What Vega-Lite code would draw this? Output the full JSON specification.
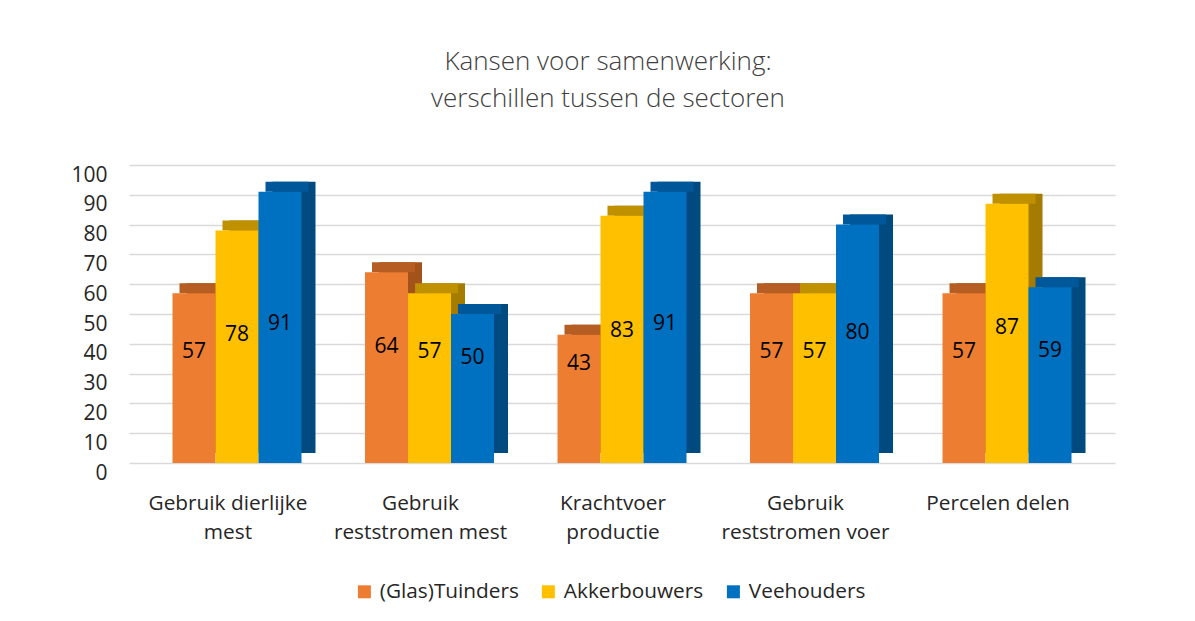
{
  "$schema": "https://vega.github.io/schema/vega-lite/v6.json",
  "width": 986,
  "height": 298,
  "padding": {"left": 70, "top": 49, "right": 10, "bottom": 10},
  "background": "white",
  "title": {
    "text": ["Kansen voor samenwerking:", "verschillen tussen de sectoren"],
    "fontSize": 26,
    "lineHeight": 37,
    "font": "Open Sans",
    "fontWeight": 300,
    "color": "#404040",
    "anchor": "middle",
    "offset": 52,
    "dx": -14
  },
  "data": {
    "values": [
      {"category": "Gebruik dierlijke mest", "sector": "(Glas)Tuinders", "value": 57},
      {"category": "Gebruik dierlijke mest", "sector": "Akkerbouwers", "value": 78},
      {"category": "Gebruik dierlijke mest", "sector": "Veehouders", "value": 91},
      {"category": "Gebruik reststromen mest", "sector": "(Glas)Tuinders", "value": 64},
      {"category": "Gebruik reststromen mest", "sector": "Akkerbouwers", "value": 57},
      {"category": "Gebruik reststromen mest", "sector": "Veehouders", "value": 50},
      {"category": "Krachtvoer productie", "sector": "(Glas)Tuinders", "value": 43},
      {"category": "Krachtvoer productie", "sector": "Akkerbouwers", "value": 83},
      {"category": "Krachtvoer productie", "sector": "Veehouders", "value": 91},
      {"category": "Gebruik reststromen voer", "sector": "(Glas)Tuinders", "value": 57},
      {"category": "Gebruik reststromen voer", "sector": "Akkerbouwers", "value": 57},
      {"category": "Gebruik reststromen voer", "sector": "Veehouders", "value": 80},
      {"category": "Percelen delen", "sector": "(Glas)Tuinders", "value": 57},
      {"category": "Percelen delen", "sector": "Akkerbouwers", "value": 87},
      {"category": "Percelen delen", "sector": "Veehouders", "value": 59}
    ]
  },
  "encoding": {
    "x": {
      "field": "category",
      "type": "nominal",
      "sort": null,
      "scale": {"paddingInner": 0.33, "paddingOuter": 0.226},
      "axis": {
        "title": null,
        "labelAngle": 0,
        "labelFontSize": 20.8,
        "labelColor": "#262626",
        "labelLineHeight": 29,
        "labelPadding": 30,
        "labelOffset": -9,
        "ticks": false,
        "domain": false,
        "labelExpr": "datum.value == 'Gebruik dierlijke mest' ? ['Gebruik dierlijke', 'mest'] : datum.value == 'Gebruik reststromen mest' ? ['Gebruik', 'reststromen mest'] : datum.value == 'Krachtvoer productie' ? ['Krachtvoer', 'productie'] : datum.value == 'Gebruik reststromen voer' ? ['Gebruik', 'reststromen voer'] : datum.value"
      }
    }
  },
  "layer": [
    {
      "mark": {"type": "bar", "yOffset": -10, "y2Offset": -10},
      "encoding": {
        "xOffset": {"field": "sector", "type": "nominal", "sort": null, "scale": {"range": [14, 143]}},
        "y": {"field": "value", "type": "quantitative", "scale": {"domain": [0, 100], "nice": false}, "axis": null},
        "y2": {"datum": 0},
        "color": {
          "field": "sector", "type": "nominal", "sort": null, "legend": null,
          "scale": {"domain": ["(Glas)Tuinders", "Akkerbouwers", "Veehouders"], "range": ["#A3521B", "#A67C00", "#004A80"]}
        }
      }
    },
    {
      "mark": {"type": "bar", "yOffset": -10, "y2Offset": 0},
      "encoding": {
        "xOffset": {"field": "sector", "type": "nominal", "sort": null, "scale": {"range": [7, 136]}},
        "y": {"field": "value", "type": "quantitative", "scale": {"domain": [0, 100], "nice": false}, "axis": null},
        "y2": {"field": "value"},
        "color": {
          "field": "sector", "type": "nominal", "sort": null, "legend": null,
          "scale": {"domain": ["(Glas)Tuinders", "Akkerbouwers", "Veehouders"], "range": ["#B55D22", "#BF9000", "#00579A"]}
        }
      }
    },
    {
      "mark": {"type": "bar"},
      "encoding": {
        "xOffset": {"field": "sector", "type": "nominal", "sort": null, "scale": {"range": [0, 129]}},
        "y": {
          "field": "value", "type": "quantitative",
          "scale": {"domain": [0, 100], "nice": false},
          "axis": {
            "title": null,
            "values": [0, 10, 20, 30, 40, 50, 60, 70, 80, 90, 100],
            "labelFontSize": 21,
            "labelColor": "#262626",
            "labelPadding": 22,
            "labelOffset": 10,
            "ticks": false,
            "tickSize": 0,
            "domain": false,
            "grid": true,
            "gridColor": "#d9d9d9",
            "gridWidth": 1.5
          }
        },
        "color": {
          "field": "sector", "type": "nominal", "sort": null,
          "scale": {"domain": ["(Glas)Tuinders", "Akkerbouwers", "Veehouders"], "range": ["#ED7D31", "#FFC000", "#0070C0"]},
          "legend": {
            "title": null,
            "orient": "none",
            "legendX": 225,
            "legendY": 416,
            "direction": "horizontal",
            "symbolType": "square",
            "symbolSize": 169,
            "symbolStrokeWidth": 0,
            "labelFontSize": 20.8,
            "labelColor": "#262626",
            "labelOffset": 5,
            "columnPadding": 19
          }
        }
      }
    },
    {
      "mark": {"type": "text", "fontSize": 21, "color": "#000000", "baseline": "middle", "align": "center"},
      "encoding": {
        "xOffset": {"field": "sector", "type": "nominal", "sort": null, "scale": {"range": [0, 129]}},
        "y": {"field": "value", "type": "quantitative", "scale": {"domain": [-77.2, 284.5], "nice": false, "zero": false}, "axis": null},
        "text": {"field": "value", "type": "quantitative"}
      }
    }
  ],
  "resolve": {"scale": {"color": "independent", "xOffset": "independent", "y": "independent"}},
  "config": {
    "font": "Open Sans",
    "view": {"stroke": null}
  }
}
